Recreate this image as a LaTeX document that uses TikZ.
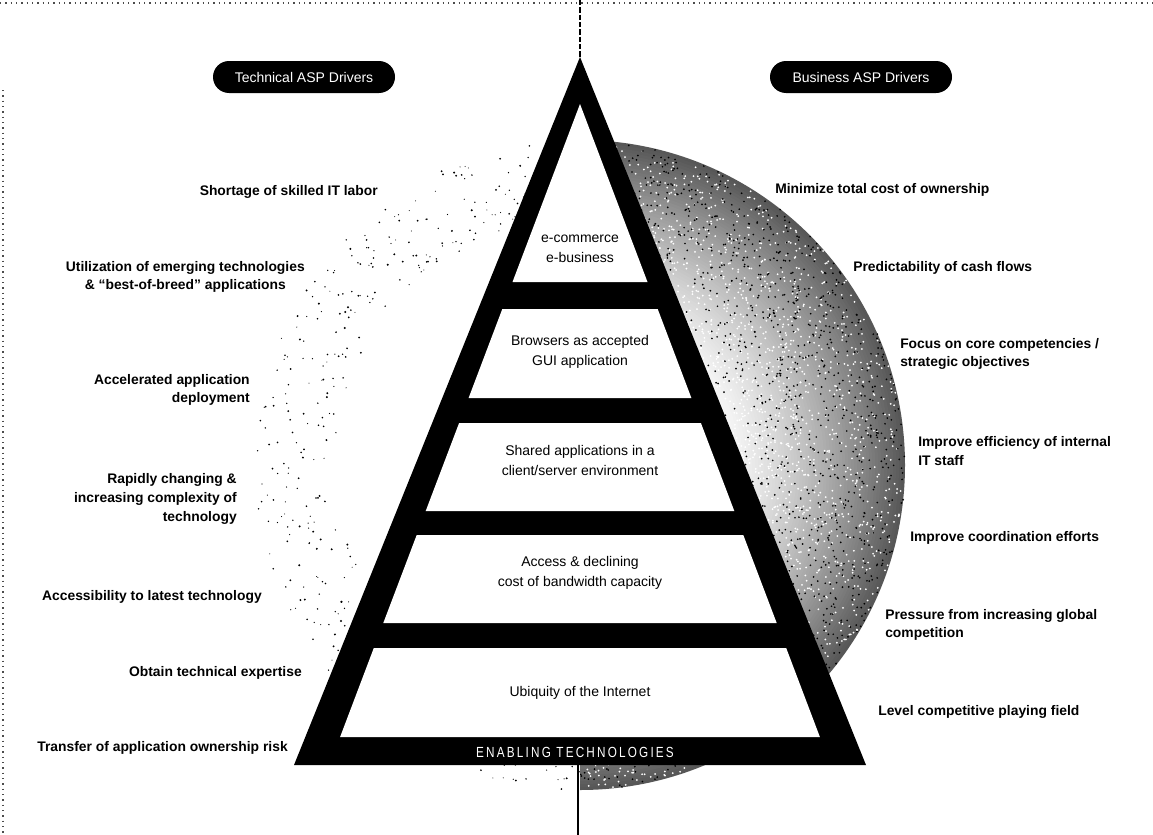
\documentclass[tikz,border=0pt]{standalone}
\usepackage{fontspec}
\setmainfont{Liberation Sans}
\newfontfamily\capsfont{Liberation Sans}[FakeStretch=0.8,LetterSpace=15]
\begin{document}
\begin{tikzpicture}[x=0.75pt,y=-0.75pt,
  lab/.style={font=\fontsize{10.4}{14}\selectfont\bfseries, inner sep=0pt},
  band/.style={font=\fontsize{10.5}{15}\selectfont, align=center, inner sep=0pt},
  pill/.style={fill=black, text=white, rounded corners=12pt, minimum width=136.5pt, minimum height=24pt, font=\fontsize{10.5}{12}\selectfont, inner sep=0pt},
  border/.style={black!70, line width=0.8pt, dash pattern=on 1pt off 3pt},
  axisline/.style={black, line width=2.2pt}
]
\useasboundingbox (0,0) rectangle (1153,835);
\fill[white] (0,0) rectangle (1153,835);

% page border traces
\draw[border] (0,3) -- (1153,3);
\draw[border] (3,90) -- (3,835);

% right half: darkening stippled sphere
\begin{scope}
  \clip (580,0) rectangle (1153,835);
  \foreach \r in {325,322,...,130}{
    \pgfmathsetmacro\g{66*((\r-130)/195)^1.4}
    \fill[black!\g] (580,465) circle (\r);
  }
  \pgfmathsetseed{11}
  \foreach \i in {1,...,2600}{
    \pgfmathsetmacro\a{rnd*180-90}
    \pgfmathsetmacro\r{140+184*rnd}
    \fill[white] ({580+\r*cos(\a)},{465+\r*sin(\a)}) circle (1.0);
  }
  \foreach \i in {1,...,1600}{
    \pgfmathsetmacro\a{rnd*180-90}
    \pgfmathsetmacro\r{140+185*(rnd)^0.6}
    \fill[black] ({580+\r*cos(\a)},{465+\r*sin(\a)}) circle (0.95);
  }
\end{scope}

% left half: sparse stipple ring
\pgfmathsetseed{5}
\foreach \i in {1,...,420}{
  \pgfmathsetmacro\a{90+rnd*180}
  \pgfmathsetmacro\r{245+80*rnd}
  \fill[black] ({580+\r*cos(\a)},{465+\r*sin(\a)}) circle ({0.5+0.6*rnd});
}

% axis line
\coordinate (top) at (580,0);
\coordinate (apex) at (580,57);
\coordinate (basemid) at (578,765);
\coordinate (bottom) at (578,835);
\draw[axisline, dash pattern=on 4pt off 1.5pt] (top) -- (apex);
\draw[axisline] (basemid) -- (bottom);

% pyramid
\fill[black] (apex) -- (294,765) -- (866,765) -- cycle;
\fill[white] (580,104) -- (512.5,282) -- (647.5,282) -- cycle;
\fill[white] (502.3,309) -- (657.7,309) -- (691.4,398) -- (468.6,398) -- cycle;
\fill[white] (459.1,423) -- (700.9,423) -- (734.3,511) -- (425.7,511) -- cycle;
\fill[white] (416.7,535) -- (743.3,535) -- (776.7,623) -- (383.3,623) -- cycle;
\fill[white] (373.8,648) -- (786.2,648) -- (819.9,737) -- (340.1,737) -- cycle;

\node[band] (b1) at (580,249) {e-commerce\\e-business};
\node[band] (b2) at (580,352) {Browsers as accepted\\GUI application};
\node[band] (b3) at (580,460) {Shared applications in a\\client/server environment};
\node[band] (b4) at (580,573) {Access \& declining\\cost of bandwidth capacity};
\node[band] (b5) at (580,693) {Ubiquity of the Internet};
\node[text=white, inner sep=0pt, font={\capsfont\fontsize{11}{12}\selectfont}] (en) at (575,752) {ENABLING TECHNOLOGIES};

% headers
\node[pill] (tech) at (304,77) {Technical ASP Drivers};
\node[pill] (bus) at (861,77) {Business ASP Drivers};

% left labels
\node[lab, anchor=east] (l1) at (378,192) {Shortage of skilled IT labor};
\node[lab, anchor=east, align=center] (l2) at (305,277) {Utilization of emerging technologies\\\& “best-of-breed” applications};
\node[lab, anchor=east, align=right] (l3) at (250,390) {Accelerated application\\deployment};
\node[lab, anchor=east, align=right] (l4) at (237,499) {Rapidly changing \&\\increasing complexity of\\technology};
\node[lab, anchor=east] (l5) at (262,597) {Accessibility to latest technology};
\node[lab, anchor=east] (l6) at (302,673) {Obtain technical expertise};
\node[lab, anchor=east] (l7) at (288,748) {Transfer of application ownership risk};

% right labels
\node[lab, anchor=west] (r1) at (775,190) {Minimize total cost of ownership};
\node[lab, anchor=west] (r2) at (853,268) {Predictability of cash flows};
\node[lab, anchor=west, align=left] (r3) at (900,354) {Focus on core competencies /\\strategic objectives};
\node[lab, anchor=west, align=left] (r4) at (918,451) {Improve efficiency of internal\\IT staff};
\node[lab, anchor=west] (r5) at (910,538) {Improve coordination efforts};
\node[lab, anchor=west, align=left] (r6) at (885,625) {Pressure from increasing global\\competition};
\node[lab, anchor=west] (r7) at (878,712) {Level competitive playing field};
\end{tikzpicture}
\end{document}
